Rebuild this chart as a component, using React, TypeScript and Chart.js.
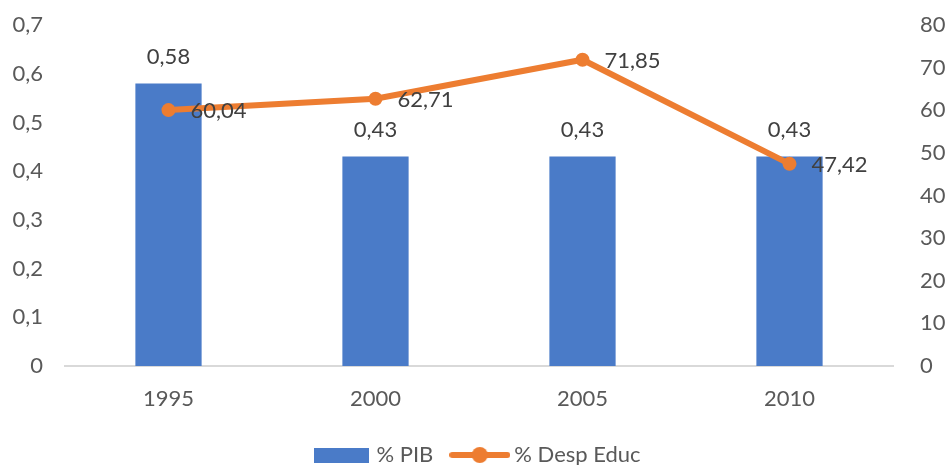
import React, { useEffect, useRef } from "react";
import { Chart, registerables } from "chart.js";

Chart.register(...registerables);

const categories = ["1995", "2000", "2005", "2010"];
const pibValues = [0.58, 0.43, 0.43, 0.43];
const despValues = [60.04, 62.71, 71.85, 47.42];
const leftTicks = [0, 0.1, 0.2, 0.3, 0.4, 0.5, 0.6, 0.7];
const rightTicks = [0, 10, 20, 30, 40, 50, 60, 70, 80];

const BLUE = "#4a7bc8";
const ORANGE = "#ED7D31";
const TEXT = "#595959";
const FONT = "Lato, 'Open Sans', sans-serif";
const FS = 22;

const fmt = (v: number) => String(v).replace(".", ",");

function makeBarIcon() {
  const c = document.createElement("canvas");
  c.width = 55;
  c.height = 15;
  const ctx = c.getContext("2d")!;
  ctx.fillStyle = BLUE;
  ctx.fillRect(0, 0, 55, 15);
  return c;
}
function makeLineIcon() {
  const c = document.createElement("canvas");
  c.width = 61;
  c.height = 18;
  const ctx = c.getContext("2d")!;
  ctx.strokeStyle = ORANGE;
  ctx.lineWidth = 6;
  ctx.lineCap = "round";
  ctx.beginPath();
  ctx.moveTo(3, 9);
  ctx.lineTo(58, 9);
  ctx.stroke();
  ctx.fillStyle = ORANGE;
  ctx.beginPath();
  ctx.arc(30.5, 9, 8, 0, Math.PI * 2);
  ctx.fill();
  return c;
}

const legendShift = {
  id: "legendShift",
  afterLayout(chart: any) {
    const lg = chart.legend;
    if (lg) {
      lg.top += 11;
      lg.bottom += 11;
      lg.left += 6;
      lg.right += 6;
    }
  },
};

const labelPlugin = {
  id: "valueLabels",
  afterDatasetsDraw(chart: any) {
    const ctx = chart.ctx;
    ctx.save();
    ctx.font = `${FS}px ${FONT}`;
    ctx.fillStyle = "#404040";
    chart.data.datasets.forEach((ds: any, i: number) => {
      const meta = chart.getDatasetMeta(i);
      meta.data.forEach((el: any, j: number) => {
        const v = ds.data[j];
        if (ds.type === "bar") {
          ctx.textAlign = "center";
          ctx.textBaseline = "middle";
          ctx.fillText(fmt(v), el.x, el.y - 27);
        } else {
          ctx.textAlign = "left";
          ctx.textBaseline = "middle";
          ctx.fillText(fmt(v), el.x + 22, el.y + 1);
        }
      });
    });
    ctx.restore();
  },
};

export default function App() {
  const ref = useRef<HTMLCanvasElement>(null);
  useEffect(() => {
    const barIcon = makeBarIcon();
    const lineIcon = makeLineIcon();
    const chart = new Chart(ref.current!, {
      type: "bar",
      data: {
        labels: categories,
        datasets: [
          {
            type: "line",
            label: "% Desp Educ",
            data: despValues,
            yAxisID: "y1",
            borderColor: ORANGE,
            backgroundColor: ORANGE,
            borderWidth: 6,
            pointRadius: 7,
            pointHoverRadius: 7,
            pointBackgroundColor: ORANGE,
            pointBorderWidth: 0,
            order: 0,
          } as any,
          {
            type: "bar",
            label: "% PIB",
            data: pibValues,
            yAxisID: "y",
            backgroundColor: BLUE,
            categoryPercentage: 1,
            barPercentage: 0.32,
            order: 1,
          } as any,
        ],
      },
      options: {
        responsive: false,
        animation: false,
        layout: { padding: { top: 0, right: 0, left: 0, bottom: 0 } },
        plugins: {
          tooltip: { enabled: false },
          legend: {
            position: "bottom",
            labels: {
              usePointStyle: true,
              pointStyleWidth: 47,
              padding: 23,
              color: TEXT,
              font: { family: FONT, size: FS },
              generateLabels: () => [
                {
                  text: "% PIB",
                  pointStyle: barIcon,
                  fillStyle: BLUE,
                  strokeStyle: BLUE,
                  lineWidth: 0,
                  fontColor: TEXT,
                  datasetIndex: 1,
                  hidden: false,
                } as any,
                {
                  text: "% Desp Educ",
                  pointStyle: lineIcon,
                  fillStyle: ORANGE,
                  strokeStyle: ORANGE,
                  lineWidth: 0,
                  fontColor: TEXT,
                  datasetIndex: 0,
                  hidden: false,
                } as any,
              ],
            },
          },
        },
        scales: {
          x: {
            grid: { display: false },
            border: { display: true, color: "#d9d9d9", width: 2 },
            ticks: { color: TEXT, font: { family: FONT, size: FS }, padding: 12 },
            afterFit: (s: any) => {
              s.height = 44;
            },
          },
          y: {
            position: "left",
            min: 0,
            max: 0.7,
            afterBuildTicks: (s: any) => {
              s.ticks = leftTicks.map((v) => ({ value: v }));
            },
            afterFit: (s: any) => {
              s.width = 65;
              s.paddingTop = 25;
            },
            grid: { display: false },
            border: { display: false },
            ticks: {
              color: TEXT,
              font: { family: FONT, size: FS },
              padding: 14,
              callback: (v: any) => fmt(Math.round(Number(v) * 10) / 10),
            },
          },
          y1: {
            position: "right",
            min: 0,
            max: 80,
            afterBuildTicks: (s: any) => {
              s.ticks = rightTicks.map((v) => ({ value: v }));
            },
            afterFit: (s: any) => {
              s.width = 54;
              s.paddingTop = 25;
            },
            grid: { display: false },
            border: { display: false },
            ticks: {
              color: TEXT,
              font: { family: FONT, size: FS },
              padding: 19,
              callback: (v: any) => fmt(Number(v)),
            },
          },
        },
      },
      plugins: [legendShift, labelPlugin],
    });
    return () => chart.destroy();
  }, []);
  return (
    <div style={{ position: "fixed", left: 0, top: 0, width: 947, height: 465, background: "#fff" }}>
      <canvas ref={ref} width={947} height={465} />
    </div>
  );
}
